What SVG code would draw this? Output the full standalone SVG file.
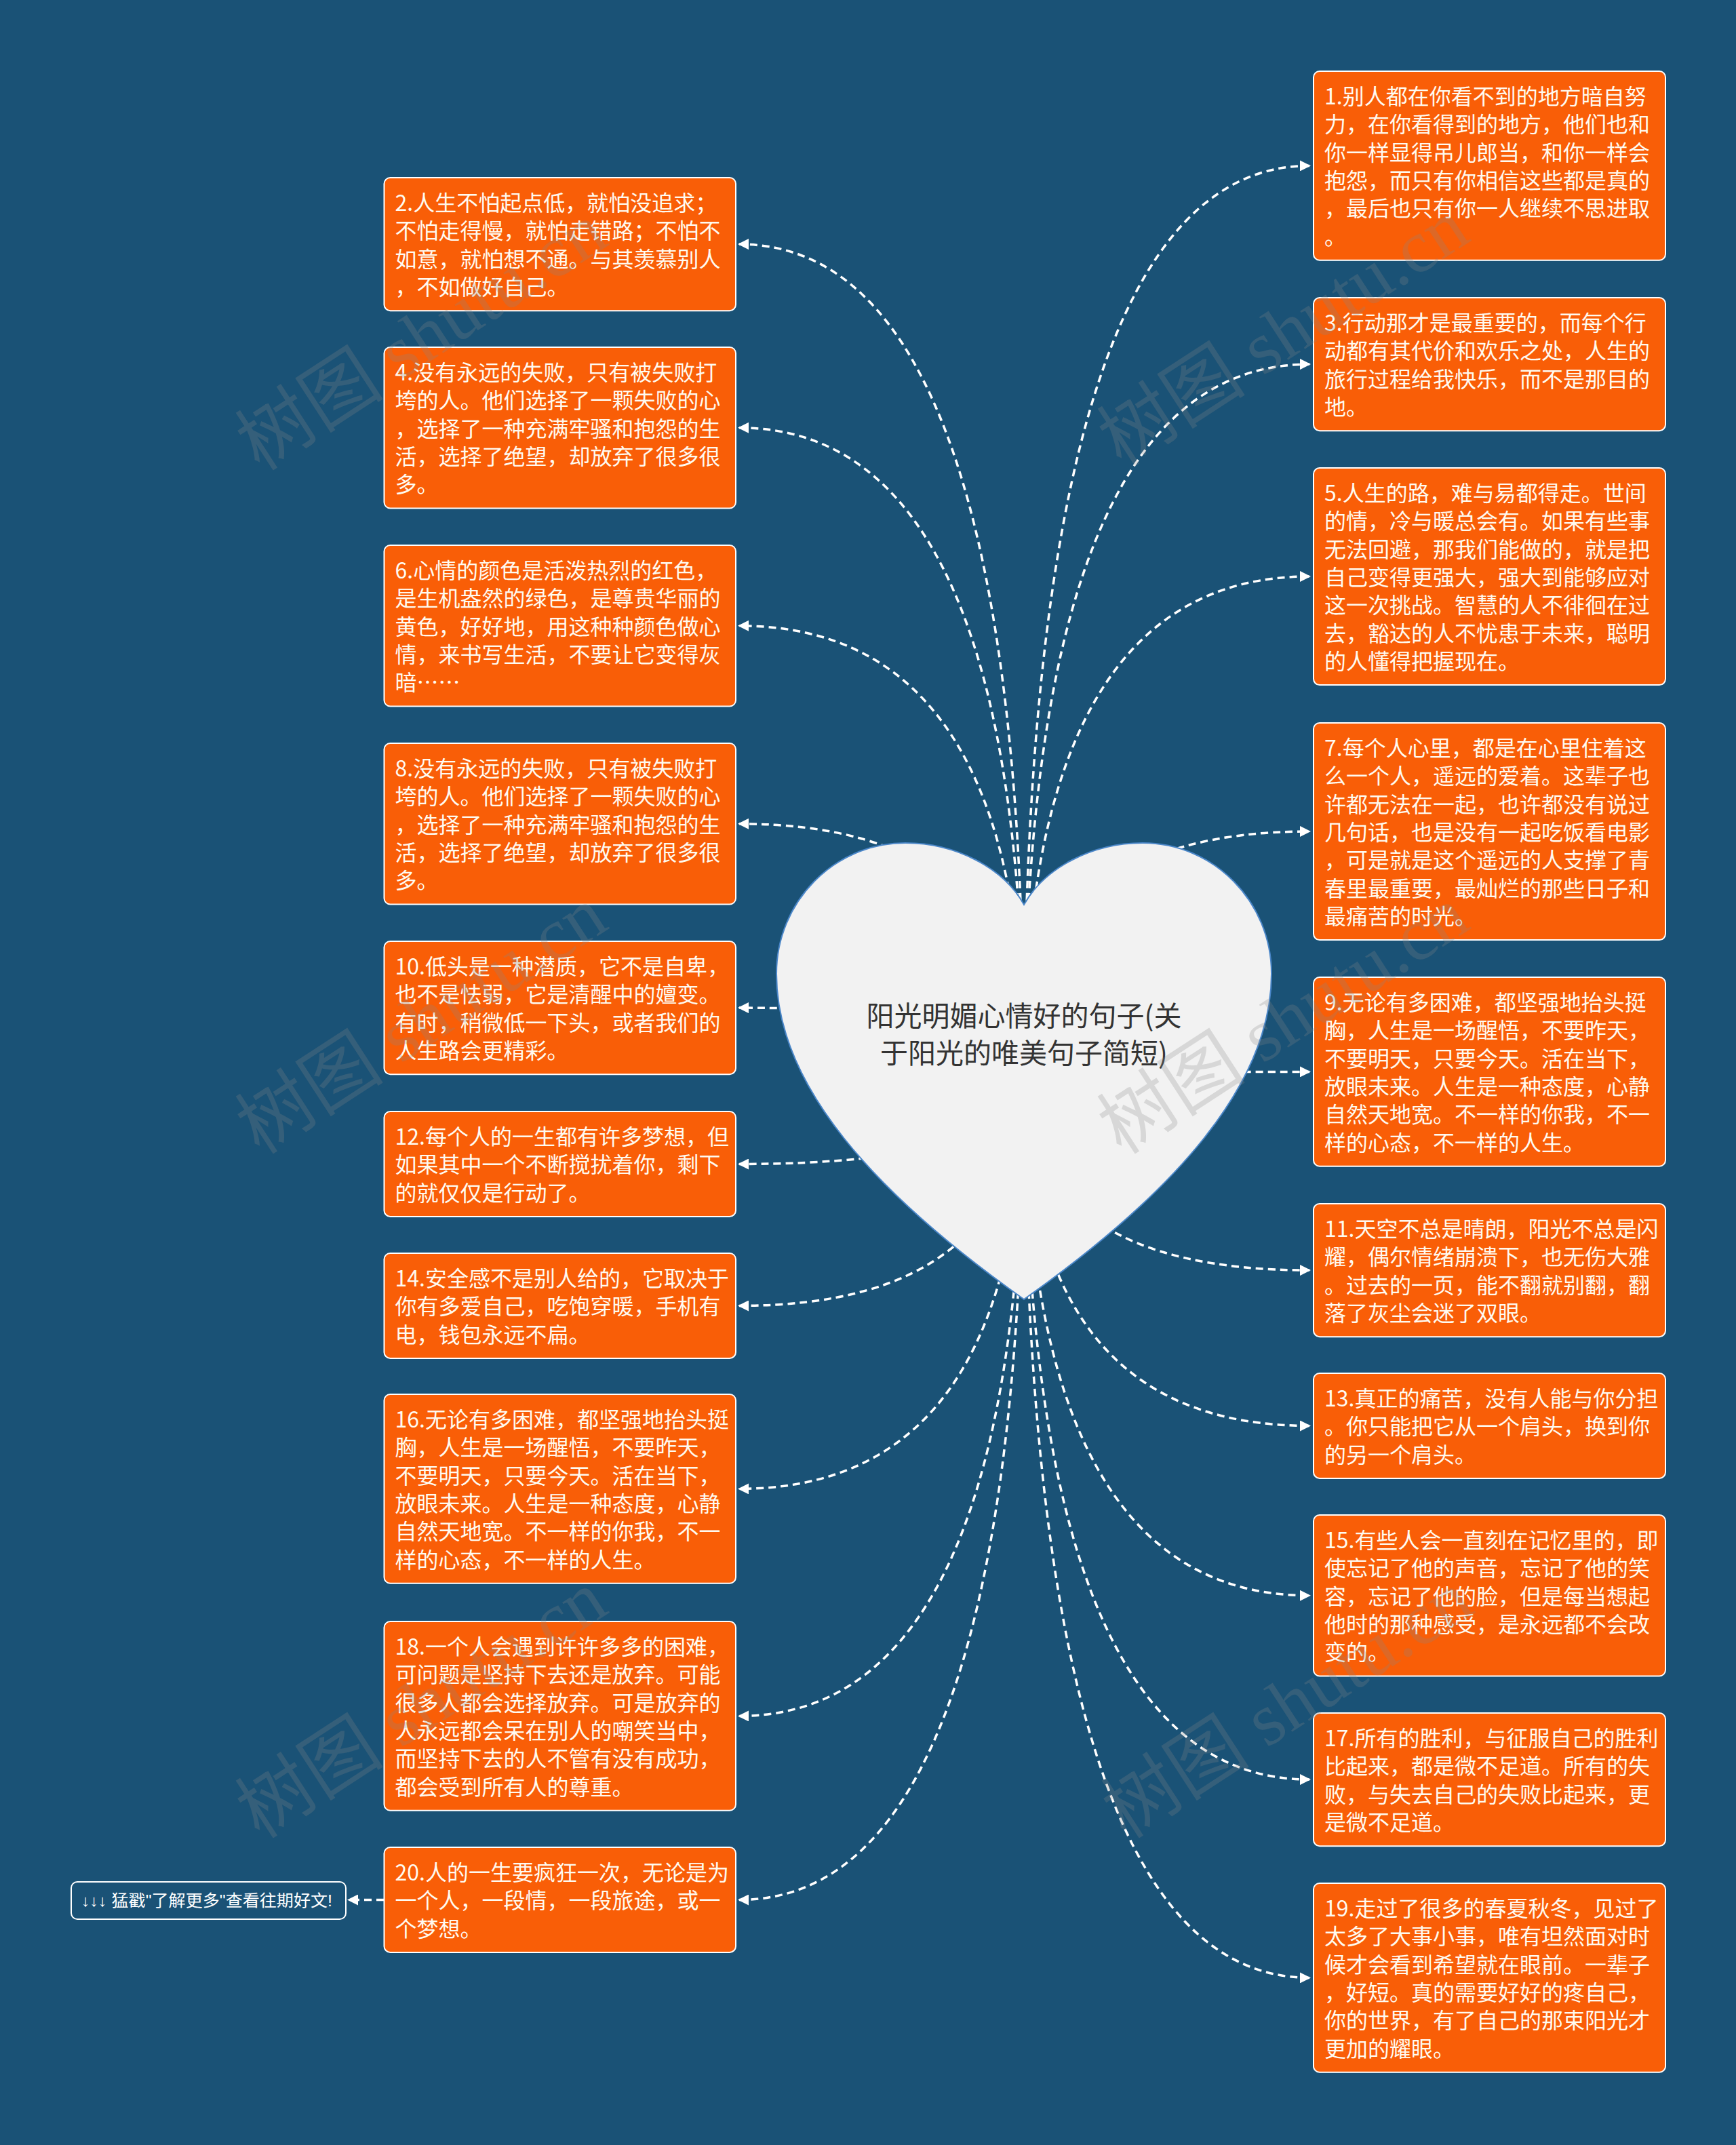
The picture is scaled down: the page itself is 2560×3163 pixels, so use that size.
<svg xmlns="http://www.w3.org/2000/svg" width="2560" height="3163" viewBox="0 0 2560 3163">
<style>
.bg{fill:#1a5276}
.box{fill:#f95e07;stroke:#ffffff;stroke-width:2}
.txt{font-family:"Noto Sans CJK SC","Noto Sans",sans-serif;font-size:32px;fill:#fffaf0}
.link{fill:#1a5276;stroke:#ffffff;stroke-width:2}
.linktxt{font-family:"Liberation Sans","Noto Sans CJK SC",sans-serif;font-size:24px;fill:#ffffff}
.edge{fill:none;stroke:#ffffff;stroke-width:3.5;stroke-dasharray:11 7;marker-end:url(#arr)}
.heart{fill:#f2f2f2;stroke:#4a86c8;stroke-width:2}
.title{font-family:"Noto Sans CJK SC","Noto Sans",sans-serif;font-size:41px;fill:#333333;text-anchor:middle}
.wm{font-family:"Liberation Serif","Noto Sans CJK SC",serif;font-size:110px;fill:#888888;fill-opacity:0.25}
</style>
<defs>
<marker id="arr" markerUnits="userSpaceOnUse" markerWidth="16" markerHeight="16" viewBox="0 0 16 16" refX="14" refY="8" orient="auto">
<path d="M0,0 L16,8 L0,16 z" fill="#ffffff"/>
</marker>
</defs>
<rect class="bg" x="0" y="0" width="2560" height="3163"/>

<g id="connectors">
<path class="edge" d="M1510 1580 Q1510 244.4 1931 244.4"/>
<path class="edge" d="M1510 1580 Q1510 537.1 1931 537.1"/>
<path class="edge" d="M1510 1580 Q1510 850 1931 850"/>
<path class="edge" d="M1510 1580 Q1510 1226 1931 1226"/>
<path class="edge" d="M1510 1580 Q1510 1580.4 1931 1580.4"/>
<path class="edge" d="M1510 1580 Q1510 1873.1 1931 1873.1"/>
<path class="edge" d="M1510 1580 Q1510 2102.5 1931 2102.5"/>
<path class="edge" d="M1510 1580 Q1510 2352.8 1931 2352.8"/>
<path class="edge" d="M1510 1580 Q1510 2624.1 1931 2624.1"/>
<path class="edge" d="M1510 1580 Q1510 2916.4 1931 2916.4"/>
<path class="edge" d="M1510 1580 Q1510 360.1 1090 360.1"/>
<path class="edge" d="M1510 1580 Q1510 630.8 1090 630.8"/>
<path class="edge" d="M1510 1580 Q1510 922.8 1090 922.8"/>
<path class="edge" d="M1510 1580 Q1510 1214.8 1090 1214.8"/>
<path class="edge" d="M1510 1580 Q1510 1486.1 1090 1486.1"/>
<path class="edge" d="M1510 1580 Q1510 1716.5 1090 1716.5"/>
<path class="edge" d="M1510 1580 Q1510 1925.5 1090 1925.5"/>
<path class="edge" d="M1510 1580 Q1510 2195.4 1090 2195.4"/>
<path class="edge" d="M1510 1580 Q1510 2530.4 1090 2530.4"/>
<path class="edge" d="M1510 1580 Q1510 2801.5 1090 2801.5"/>
<path class="edge" d="M566 2801.5 L514 2801.5"/>
</g>

<g id="root">
<path class="heart" d="M1510 1334 C1480 1280 1410 1243 1335 1243 C1230 1243 1145 1330 1145 1436 C1145 1600 1290 1760 1510 1916 C1730 1760 1875 1600 1875 1436 C1875 1330 1790 1243 1685 1243 C1610 1243 1540 1280 1510 1334 Z"/>
<text class="title" x="1510" y="1513">阳光明媚心情好的句子(关</text>
<text class="title" x="1510" y="1568">于阳光的唯美句子简短)</text>
</g>

<g id="n1" transform="translate(1937,105)">
<rect class="box" width="519" height="278.8" rx="9"/>
<text class="txt" y="49"><tspan x="16">1.别人都在你看不到的地方暗自努</tspan><tspan x="16" dy="41.3">力，在你看得到的地方，他们也和</tspan><tspan x="16" dy="41.3">你一样显得吊儿郎当，和你一样会</tspan><tspan x="16" dy="41.3">抱怨，而只有你相信这些都是真的</tspan><tspan x="16" dy="41.3">，最后也只有你一人继续不思进取</tspan><tspan x="16" dy="41.3">。</tspan></text>
</g>
<g id="n3" transform="translate(1937,439)">
<rect class="box" width="519" height="196.2" rx="9"/>
<text class="txt" y="49"><tspan x="16">3.行动那才是最重要的，而每个行</tspan><tspan x="16" dy="41.3">动都有其代价和欢乐之处，人生的</tspan><tspan x="16" dy="41.3">旅行过程给我快乐，而不是那目的</tspan><tspan x="16" dy="41.3">地。</tspan></text>
</g>
<g id="n5" transform="translate(1937,690)">
<rect class="box" width="519" height="320.1" rx="9"/>
<text class="txt" y="49"><tspan x="16">5.人生的路，难与易都得走。世间</tspan><tspan x="16" dy="41.3">的情，冷与暖总会有。如果有些事</tspan><tspan x="16" dy="41.3">无法回避，那我们能做的，就是把</tspan><tspan x="16" dy="41.3">自己变得更强大，强大到能够应对</tspan><tspan x="16" dy="41.3">这一次挑战。智慧的人不徘徊在过</tspan><tspan x="16" dy="41.3">去，豁达的人不忧患于未来，聪明</tspan><tspan x="16" dy="41.3">的人懂得把握现在。</tspan></text>
</g>
<g id="n7" transform="translate(1937,1066)">
<rect class="box" width="519" height="320.1" rx="9"/>
<text class="txt" y="49"><tspan x="16">7.每个人心里，都是在心里住着这</tspan><tspan x="16" dy="41.3">么一个人，遥远的爱着。这辈子也</tspan><tspan x="16" dy="41.3">许都无法在一起，也许都没有说过</tspan><tspan x="16" dy="41.3">几句话，也是没有一起吃饭看电影</tspan><tspan x="16" dy="41.3">，可是就是这个遥远的人支撑了青</tspan><tspan x="16" dy="41.3">春里最重要，最灿烂的那些日子和</tspan><tspan x="16" dy="41.3">最痛苦的时光。</tspan></text>
</g>
<g id="n9" transform="translate(1937,1441)">
<rect class="box" width="519" height="278.8" rx="9"/>
<text class="txt" y="49"><tspan x="16">9.无论有多困难，都坚强地抬头挺</tspan><tspan x="16" dy="41.3">胸，人生是一场醒悟，不要昨天，</tspan><tspan x="16" dy="41.3">不要明天，只要今天。活在当下，</tspan><tspan x="16" dy="41.3">放眼未来。人生是一种态度，心静</tspan><tspan x="16" dy="41.3">自然天地宽。不一样的你我，不一</tspan><tspan x="16" dy="41.3">样的心态，不一样的人生。</tspan></text>
</g>
<g id="n11" transform="translate(1937,1775)">
<rect class="box" width="519" height="196.2" rx="9"/>
<text class="txt" y="49"><tspan x="16">11.天空不总是晴朗，阳光不总是闪</tspan><tspan x="16" dy="41.3">耀，偶尔情绪崩溃下，也无伤大雅</tspan><tspan x="16" dy="41.3">。过去的一页，能不翻就别翻，翻</tspan><tspan x="16" dy="41.3">落了灰尘会迷了双眼。</tspan></text>
</g>
<g id="n13" transform="translate(1937,2025)">
<rect class="box" width="519" height="154.9" rx="9"/>
<text class="txt" y="49"><tspan x="16">13.真正的痛苦，没有人能与你分担</tspan><tspan x="16" dy="41.3">。你只能把它从一个肩头，换到你</tspan><tspan x="16" dy="41.3">的另一个肩头。</tspan></text>
</g>
<g id="n15" transform="translate(1937,2234)">
<rect class="box" width="519" height="237.5" rx="9"/>
<text class="txt" y="49"><tspan x="16">15.有些人会一直刻在记忆里的，即</tspan><tspan x="16" dy="41.3">使忘记了他的声音，忘记了他的笑</tspan><tspan x="16" dy="41.3">容，忘记了他的脸，但是每当想起</tspan><tspan x="16" dy="41.3">他时的那种感受，是永远都不会改</tspan><tspan x="16" dy="41.3">变的。</tspan></text>
</g>
<g id="n17" transform="translate(1937,2526)">
<rect class="box" width="519" height="196.2" rx="9"/>
<text class="txt" y="49"><tspan x="16">17.所有的胜利，与征服自己的胜利</tspan><tspan x="16" dy="41.3">比起来，都是微不足道。所有的失</tspan><tspan x="16" dy="41.3">败，与失去自己的失败比起来，更</tspan><tspan x="16" dy="41.3">是微不足道。</tspan></text>
</g>
<g id="n19" transform="translate(1937,2777)">
<rect class="box" width="519" height="278.8" rx="9"/>
<text class="txt" y="49"><tspan x="16">19.走过了很多的春夏秋冬，见过了</tspan><tspan x="16" dy="41.3">太多了大事小事，唯有坦然面对时</tspan><tspan x="16" dy="41.3">候才会看到希望就在眼前。一辈子</tspan><tspan x="16" dy="41.3">，好短。真的需要好好的疼自己，</tspan><tspan x="16" dy="41.3">你的世界，有了自己的那束阳光才</tspan><tspan x="16" dy="41.3">更加的耀眼。</tspan></text>
</g>

<g id="n2" transform="translate(566.5,262)">
<rect class="box" width="518.5" height="196.2" rx="9"/>
<text class="txt" y="49"><tspan x="16">2.人生不怕起点低，就怕没追求；</tspan><tspan x="16" dy="41.3">不怕走得慢，就怕走错路；不怕不</tspan><tspan x="16" dy="41.3">如意，就怕想不通。与其羡慕别人</tspan><tspan x="16" dy="41.3">，不如做好自己。</tspan></text>
</g>
<g id="n4" transform="translate(566.5,512)">
<rect class="box" width="518.5" height="237.5" rx="9"/>
<text class="txt" y="49"><tspan x="16">4.没有永远的失败，只有被失败打</tspan><tspan x="16" dy="41.3">垮的人。他们选择了一颗失败的心</tspan><tspan x="16" dy="41.3">，选择了一种充满牢骚和抱怨的生</tspan><tspan x="16" dy="41.3">活，选择了绝望，却放弃了很多很</tspan><tspan x="16" dy="41.3">多。</tspan></text>
</g>
<g id="n6" transform="translate(566.5,804)">
<rect class="box" width="518.5" height="237.5" rx="9"/>
<text class="txt" y="49"><tspan x="16">6.心情的颜色是活泼热烈的红色，</tspan><tspan x="16" dy="41.3">是生机盎然的绿色，是尊贵华丽的</tspan><tspan x="16" dy="41.3">黄色，好好地，用这种种颜色做心</tspan><tspan x="16" dy="41.3">情，来书写生活，不要让它变得灰</tspan><tspan x="16" dy="41.3">暗……</tspan></text>
</g>
<g id="n8" transform="translate(566.5,1096)">
<rect class="box" width="518.5" height="237.5" rx="9"/>
<text class="txt" y="49"><tspan x="16">8.没有永远的失败，只有被失败打</tspan><tspan x="16" dy="41.3">垮的人。他们选择了一颗失败的心</tspan><tspan x="16" dy="41.3">，选择了一种充满牢骚和抱怨的生</tspan><tspan x="16" dy="41.3">活，选择了绝望，却放弃了很多很</tspan><tspan x="16" dy="41.3">多。</tspan></text>
</g>
<g id="n10" transform="translate(566.5,1388)">
<rect class="box" width="518.5" height="196.2" rx="9"/>
<text class="txt" y="49"><tspan x="16">10.低头是一种潜质，它不是自卑，</tspan><tspan x="16" dy="41.3">也不是怯弱，它是清醒中的嬗变。</tspan><tspan x="16" dy="41.3">有时，稍微低一下头，或者我们的</tspan><tspan x="16" dy="41.3">人生路会更精彩。</tspan></text>
</g>
<g id="n12" transform="translate(566.5,1639)">
<rect class="box" width="518.5" height="154.9" rx="9"/>
<text class="txt" y="49"><tspan x="16">12.每个人的一生都有许多梦想，但</tspan><tspan x="16" dy="41.3">如果其中一个不断搅扰着你，剩下</tspan><tspan x="16" dy="41.3">的就仅仅是行动了。</tspan></text>
</g>
<g id="n14" transform="translate(566.5,1848)">
<rect class="box" width="518.5" height="154.9" rx="9"/>
<text class="txt" y="49"><tspan x="16">14.安全感不是别人给的，它取决于</tspan><tspan x="16" dy="41.3">你有多爱自己，吃饱穿暖，手机有</tspan><tspan x="16" dy="41.3">电，钱包永远不扁。</tspan></text>
</g>
<g id="n16" transform="translate(566.5,2056)">
<rect class="box" width="518.5" height="278.8" rx="9"/>
<text class="txt" y="49"><tspan x="16">16.无论有多困难，都坚强地抬头挺</tspan><tspan x="16" dy="41.3">胸，人生是一场醒悟，不要昨天，</tspan><tspan x="16" dy="41.3">不要明天，只要今天。活在当下，</tspan><tspan x="16" dy="41.3">放眼未来。人生是一种态度，心静</tspan><tspan x="16" dy="41.3">自然天地宽。不一样的你我，不一</tspan><tspan x="16" dy="41.3">样的心态，不一样的人生。</tspan></text>
</g>
<g id="n18" transform="translate(566.5,2391)">
<rect class="box" width="518.5" height="278.8" rx="9"/>
<text class="txt" y="49"><tspan x="16">18.一个人会遇到许许多多的困难，</tspan><tspan x="16" dy="41.3">可问题是坚持下去还是放弃。可能</tspan><tspan x="16" dy="41.3">很多人都会选择放弃。可是放弃的</tspan><tspan x="16" dy="41.3">人永远都会呆在别人的嘲笑当中，</tspan><tspan x="16" dy="41.3">而坚持下去的人不管有没有成功，</tspan><tspan x="16" dy="41.3">都会受到所有人的尊重。</tspan></text>
</g>
<g id="n20" transform="translate(566.5,2724)">
<rect class="box" width="518.5" height="154.9" rx="9"/>
<text class="txt" y="49"><tspan x="16">20.人的一生要疯狂一次，无论是为</tspan><tspan x="16" dy="41.3">一个人，一段情，一段旅途，或一</tspan><tspan x="16" dy="41.3">个梦想。</tspan></text>
</g>
<g id="link" transform="translate(105,2775)">
<rect class="link" width="405" height="55" rx="9"/>
<text class="linktxt" x="15" y="36" textLength="370" lengthAdjust="spacingAndGlyphs">↓↓↓ 猛戳"了解更多"查看往期好文!</text>
</g>

<g id="watermark">
<text class="wm" transform="translate(383,696) rotate(-33)">树图 shutu.cn</text>
<text class="wm" transform="translate(1654,690) rotate(-33)">树图 shutu.cn</text>
<text class="wm" transform="translate(383,1704) rotate(-33)">树图 shutu.cn</text>
<text class="wm" transform="translate(1654,1704) rotate(-33)">树图 shutu.cn</text>
<text class="wm" transform="translate(383,2713) rotate(-33)">树图 shutu.cn</text>
<text class="wm" transform="translate(1660,2713) rotate(-33)">树图 shutu.cn</text>
</g>
</svg>
